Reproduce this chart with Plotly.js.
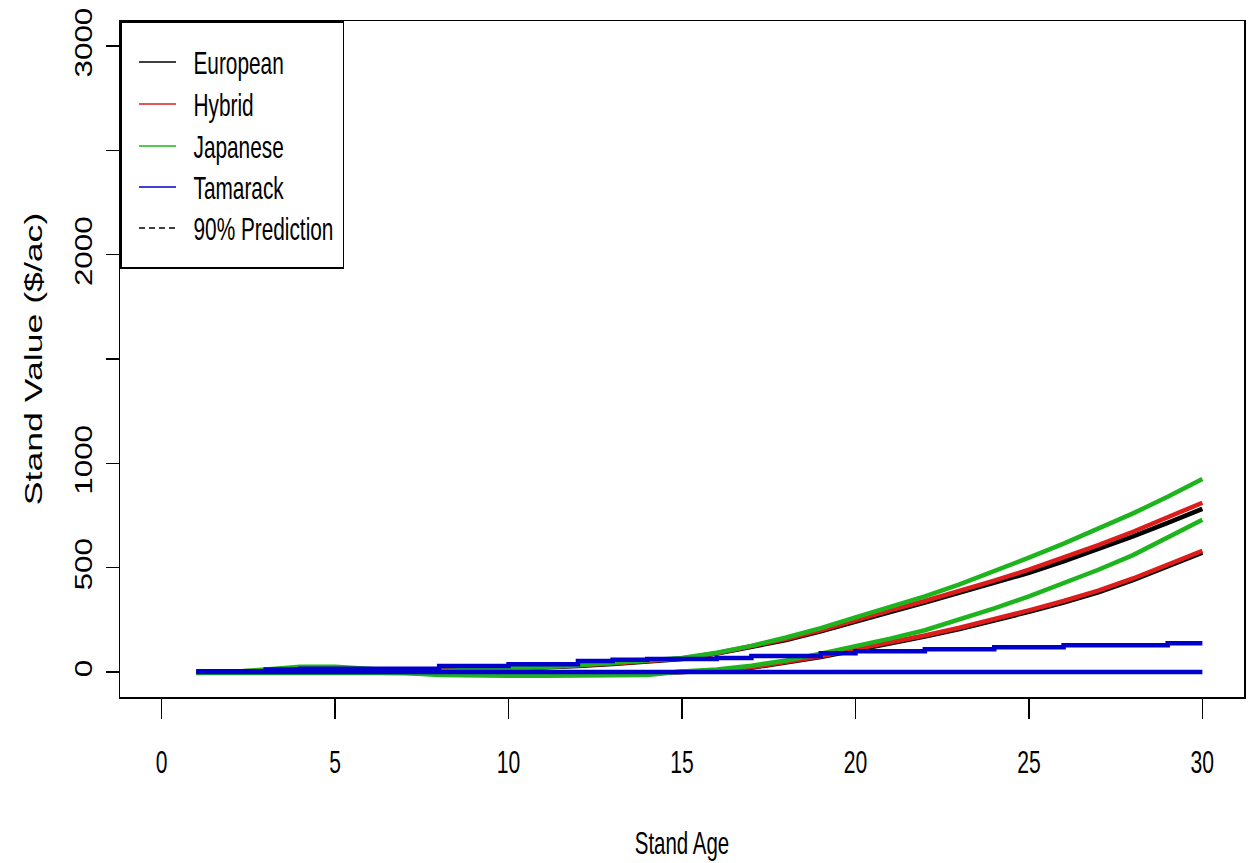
<!DOCTYPE html>
<html>
<head>
<meta charset="utf-8">
<script src="https://cdn.plot.ly/plotly-3.0.1.min.js"></script>
<style>
html,body{margin:0;padding:0;background:#ffffff;}
#chart{width:1251px;height:863px;}
</style>
</head>
<body>
<div id="chart"></div>
<script>
// Stand age (years)
const ages = [1,2,3,4,5,6,7,8,9,10,11,12,13,14,15,16,17,18,19,20,21,22,23,24,25,26,27,28,29,30];

// 90% prediction bounds of stand value ($/ac)
const europeanHigh = [0,0,5,10,10,5,5,5,10,15,20,28,38,50,62,88,118,153,195,243,287,332,378,426,475,530,588,650,715,782];
const europeanLow  = [0,0,0,0,0,0,0,-5,-8,-8,-8,-8,-8,-5,0,6,20,44,72,104,135,170,206,246,288,333,382,440,505,572];
const hybridHigh   = [0,0,5,12,12,5,5,5,10,15,22,30,40,52,65,90,122,158,200,250,295,340,388,438,490,548,608,672,740,811];
const hybridLow    = [0,0,0,0,0,0,0,-5,-8,-8,-8,-8,-8,-5,0,8,22,48,75,110,140,175,212,252,295,340,390,448,512,580];
const japaneseHigh = [0,0,12,25,25,15,5,5,10,15,22,32,42,55,67,92,125,165,210,262,310,362,420,482,548,615,686,760,840,925];
const japaneseLow  = [-5,-5,0,0,0,0,-5,-15,-18,-18,-18,-18,-18,-15,2,12,30,55,88,122,160,200,250,305,362,425,490,560,643,730];
const tamarackHigh = [3,3,12,15,15,15,15,28,28,37,37,52,58,62,62,67,77,77,90,99,99,109,109,118,118,128,128,128,138,138];
const tamarackLow  = [0,0,0,0,0,0,0,0,0,0,0,0,0,0,0,0,0,0,0,0,0,0,0,0,0,0,0,0,0,0];

// Legend entries
const legendNames = ["European","Hybrid","Japanese","Tamarack","90% Prediction"];

const xTicks = [0,5,10,15,20,25,30];
const yTicks = [0,500,1000,1500,2000,2500,3000];
const yTickText = ["0","500","1000","","2000","","3000"];

const colors = {European:"#000000", Hybrid:"#DD1C1C", Japanese:"#1DB41D", Tamarack:"#0000CD"};
const sans = '"Liberation Sans", Arial, sans-serif';

function band(y, color, shape) {
  return {x: ages, y: y, mode: "lines", showlegend: false, hoverinfo: "skip",
          line: {color: color, width: 4.5, shape: shape || "linear"}};
}

const traces = [
  band(europeanHigh, colors.European), band(europeanLow, colors.European),
  band(hybridHigh, colors.Hybrid), band(hybridLow, colors.Hybrid),
  band(japaneseHigh, colors.Japanese), band(japaneseLow, colors.Japanese),
  band(tamarackHigh, colors.Tamarack, "hv"), band(tamarackLow, colors.Tamarack, "hv")
];

const legendColors = [colors.European, colors.Hybrid, colors.Japanese, colors.Tamarack, "#000000"];
legendNames.forEach(function (nm, i) {
  traces.push({x: [null], y: [null], mode: "lines", name: nm, legendgroup: "g" + i,
               showlegend: true, hoverinfo: "skip",
               line: {color: legendColors[i], width: 1.5, dash: i === 4 ? "6px,4px" : "solid"}});
});

const layout = {
  width: 1251, height: 863,
  margin: {l: 120, r: 7, t: 21, b: 166},
  paper_bgcolor: "#ffffff", plot_bgcolor: "#ffffff",
  showlegend: true,
  legend: {x: 0, y: 1, xanchor: "left", yanchor: "top",
           bgcolor: "#ffffff", bordercolor: "#000000", borderwidth: 1.5,
           font: {family: sans, size: 32, color: "#000000"},
           tracegroupgap: 0, itemwidth: 62, traceorder: "normal"},
  xaxis: {range: [-1.2, 31.2], tickvals: xTicks, ticktext: xTicks.map(String),
          ticks: "outside", ticklen: 20, tickwidth: 1.5, tickcolor: "#000000",
          ticklabelstandoff: 16,
          showgrid: false, zeroline: false,
          showline: true, mirror: true, linecolor: "#000000", linewidth: 1.5,
          tickfont: {family: sans, size: 32, color: "#000000"},
          title: {text: "Stand Age", font: {family: sans, size: 32, color: "#000000"}, standoff: 52}},
  yaxis: {range: [-120, 3120], tickvals: yTicks, ticktext: yTickText,
          ticks: "outside", ticklen: 13, tickwidth: 1.5, tickcolor: "#000000",
          tickangle: -90, ticklabelstandoff: 4,
          showgrid: false, zeroline: false,
          showline: true, mirror: true, linecolor: "#000000", linewidth: 1.5,
          tickfont: {family: sans, size: 23, color: "#000000"},
          title: {text: "Stand Value ($/ac)", font: {family: sans, size: 23, color: "#000000"}, standoff: 22}}
};

// The reference image is squeezed horizontally: narrow upright text, wide rotated text.
function rescale(nodes, factor) {
  nodes.forEach(function (n) {
    n.removeAttribute("textLength");
    const w = n.getComputedTextLength();
    if (w > 0) {
      n.setAttribute("textLength", (w * factor).toFixed(1));
      n.setAttribute("lengthAdjust", "spacingAndGlyphs");
    }
  });
}

function finish(gd) {
  rescale(gd.querySelectorAll(".xtick text"), 0.66);
  rescale(gd.querySelectorAll(".g-xtitle text"), 0.64);
  rescale(gd.querySelectorAll(".legendtext"), 0.65);
  rescale(gd.querySelectorAll(".ytick text"), 1.36);
  rescale(gd.querySelectorAll(".g-ytitle text"), 1.55);

  const leg = gd.querySelector(".legend");
  if (!leg) return;
  const sb = leg.querySelector(".scrollbox");
  const cp = sb && sb.getAttribute("clip-path");
  if (cp) {
    const m = cp.match(/#([^'")]+)/);
    const el = m && document.getElementById(m[1]);
    if (el) {
      const r = el.tagName.toLowerCase() === "rect" ? el : el.querySelector("rect");
      if (r) { r.setAttribute("height", 1000); r.setAttribute("width", 1000); }
    }
  }
  // legend rows and sample lines placed as in the reference
  const rows = leg.querySelectorAll(".traces");
  const targets = [62, 104, 146, 187, 228];
  rows.forEach(function (g, i) {
    const path = g.querySelector(".legendlines path") || g.querySelector("path.js-line");
    if (!path) return;
    const b = path.getBoundingClientRect();
    const cy = b.top + b.height / 2;
    const tr = (g.getAttribute("transform") || "").match(/translate\(\s*([-\d.]+)[ ,]+([-\d.]+)\s*\)/);
    if (tr && targets[i] !== undefined) {
      g.setAttribute("transform", "translate(" + tr[1] + "," + (parseFloat(tr[2]) + targets[i] - cy).toFixed(1) + ")");
    }
    const d = (path.getAttribute("d") || "").match(/M([-\d.]+),([-\d.]+)h([-\d.]+)/);
    if (d) {
      const x0 = parseFloat(d[1]) + (139 - b.left);
      path.setAttribute("d", "M" + x0.toFixed(1) + "," + d[2] + "h37");
    }
  });
  const bg = leg.querySelector("rect.bg");
  if (bg) {
    let maxR = 0;
    leg.querySelectorAll(".legendtext").forEach(function (t) {
      maxR = Math.max(maxR, t.getBoundingClientRect().right);
    });
    const bb = bg.getBoundingClientRect();
    if (maxR > 0) bg.setAttribute("width", (parseFloat(bg.getAttribute("width")) + (maxR + 10 - bb.right)).toFixed(1));
    bg.setAttribute("height", (parseFloat(bg.getAttribute("height")) + (268 - bb.bottom)).toFixed(1));
  }
}

Plotly.newPlot("chart", traces, layout, {staticPlot: true, displayModeBar: false}).then(function (gd) {
  finish(gd);
});
</script>
</body>
</html>
